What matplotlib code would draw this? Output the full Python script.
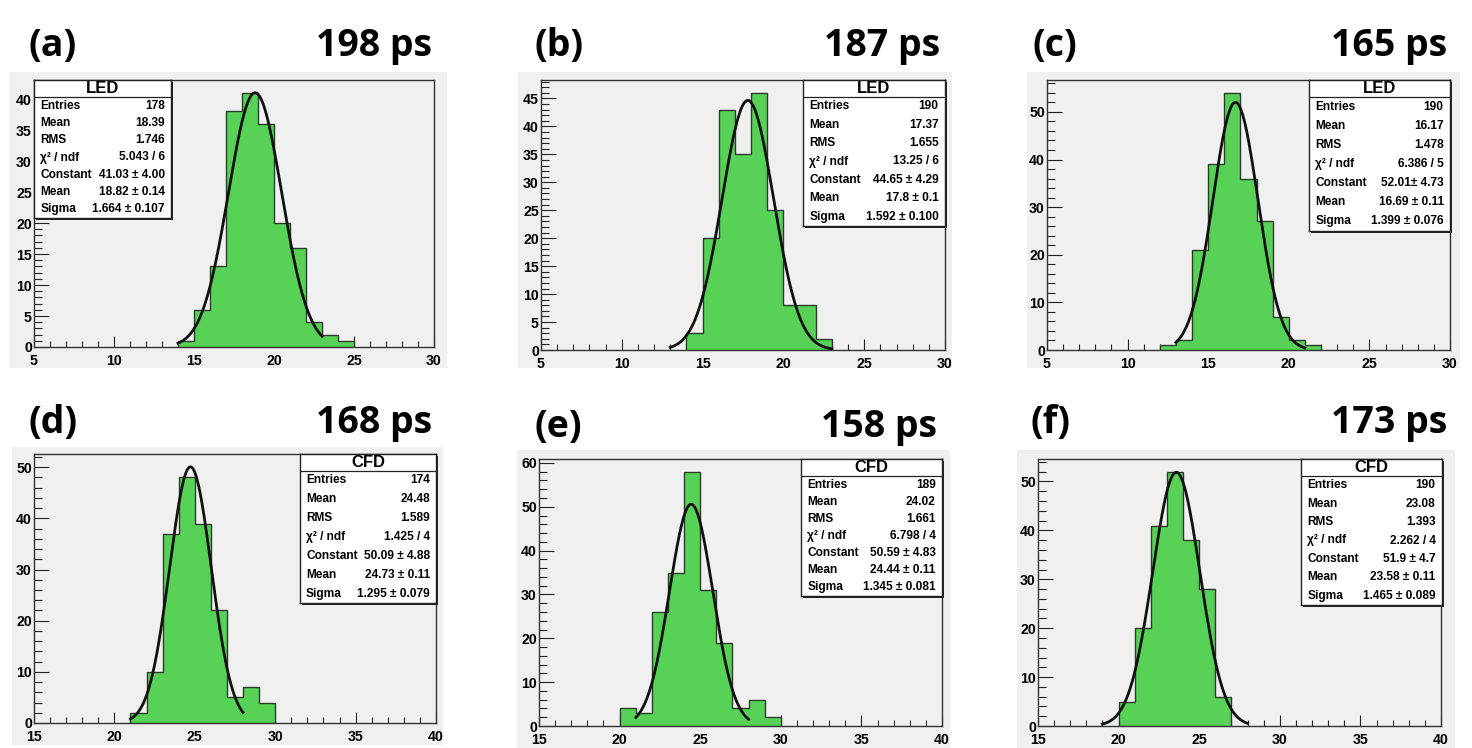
import numpy as np
import matplotlib
matplotlib.use("Agg")
import matplotlib.pyplot as plt
from matplotlib.patches import Rectangle
from matplotlib.ticker import MultipleLocator

plt.rcParams["font.family"] = ["Liberation Sans", "DejaVu Sans"]
plt.rcParams["font.weight"] = "bold"

# ---------------- data ----------------
panel_labels = ["(a)", "(b)", "(c)", "(d)", "(e)", "(f)"]
resolutions = ["198 ps", "187 ps", "165 ps", "168 ps", "158 ps", "173 ps"]
methods = ["LED", "LED", "LED", "CFD", "CFD", "CFD"]

bin_start = [14, 14, 12, 21, 20, 20]
counts_a = [1, 6, 13, 38, 41, 36, 20, 16, 4, 2, 1]
counts_b = [3, 20, 43, 35, 46, 25, 8, 8, 2]
counts_c = [1, 2, 21, 39, 54, 36, 27, 7, 2, 1]
counts_d = [2, 10, 37, 48, 39, 22, 5, 7, 4]
counts_e = [4, 3, 26, 35, 58, 31, 19, 4, 6, 2]
counts_f = [5, 20, 41, 52, 38, 28, 6]
all_counts = [counts_a, counts_b, counts_c, counts_d, counts_e, counts_f]

x_ranges = [(5, 30), (5, 30), (5, 30), (15, 40), (15, 40), (15, 40)]
y_major = [5, 5, 10, 10, 10, 10]
y_minor = [1, 1, 2, 2, 2, 2]

fit_constant = [41.03, 44.65, 52.01, 50.09, 50.59, 51.9]
fit_mean = [18.82, 17.8, 16.69, 24.73, 24.44, 23.58]
fit_sigma = [1.664, 1.592, 1.399, 1.295, 1.345, 1.465]
fit_range = [(14, 23), (13, 23), (13, 21), (21, 28), (21, 28), (19, 28)]

entries_txt = ["178", "190", "190", "174", "189", "190"]
mean_txt = ["18.39", "17.37", "16.17", "24.48", "24.02", "23.08"]
rms_txt = ["1.746", "1.655", "1.478", "1.589", "1.661", "1.393"]
chi2_txt = ["5.043 / 6", "13.25 / 6", "6.386 / 5", "1.425 / 4", "6.798 / 4", "2.262 / 4"]
const_txt = ["41.03 \u00b1 4.00", "44.65 \u00b1 4.29", "52.01\u00b1 4.73",
             "50.09 \u00b1 4.88", "50.59 \u00b1 4.83", "51.9 \u00b1 4.7"]
fmean_txt = ["18.82 \u00b1 0.14", "17.8 \u00b1 0.1", "16.69 \u00b1 0.11",
             "24.73 \u00b1 0.11", "24.44 \u00b1 0.11", "23.58 \u00b1 0.11"]
sigma_txt = ["1.664 \u00b1 0.107", "1.592 \u00b1 0.100", "1.399 \u00b1 0.076",
             "1.295 \u00b1 0.079", "1.345 \u00b1 0.081", "1.465 \u00b1 0.089"]

# ---------------- layout (pixels) ----------------
W, H = 1472, 748
pads = [(10, 72, 447, 368), (518, 72, 952, 368), (1027, 72, 1460, 368),
        (12, 447, 443, 745), (517, 450, 950, 748), (1017, 450, 1455, 748)]
axes_px = [(34, 80, 434, 347), (541, 80, 945, 350), (1047, 80, 1450, 350),
           (34, 454, 436, 723), (539, 459, 942, 726), (1038, 459, 1441, 726)]
stat_px = [(34, 80, 171, 218), (803, 80, 945, 226), (1309, 80, 1450, 231),
           (300, 454, 436, 603), (801, 459, 942, 596), (1301, 459, 1442, 605)]
label_pos = [(28, 56), (535, 56), (1032, 56), (28, 433), (535, 437), (1030, 433)]
res_pos = [(432, 56), (940, 56), (1447, 56), (432, 433), (937, 437), (1447, 433)]

GREEN = "#57d257"
PADGRAY = "#f0f0f0"
TITLE_FAMILY = ["Open Sans", "Noto Sans", "DejaVu Sans"]


def frect(x0, y0, x1, y1):
    return [x0 / W, 1 - y1 / H, (x1 - x0) / W, (y1 - y0) / H]


fig = plt.figure(figsize=(W / 100, H / 100), dpi=100)
fig.patch.set_facecolor("white")

for i in range(6):
    # gray pad
    px0, py0, px1, py1 = pads[i]
    fig.patches.append(Rectangle((px0 / W, 1 - py1 / H), (px1 - px0) / W, (py1 - py0) / H,
                                 transform=fig.transFigure, facecolor=PADGRAY,
                                 edgecolor="none", zorder=-5))

    ax = fig.add_axes(frect(*axes_px[i]))
    ax.set_facecolor(PADGRAY)
    ax.set_zorder(0)
    counts = np.array(all_counts[i], dtype=float)
    edges = np.arange(bin_start[i], bin_start[i] + len(counts) + 1)
    ax.stairs(counts, edges, fill=True, color=GREEN, zorder=2)
    ax.stairs(counts, edges, fill=False, color="#2b3b2b", linewidth=1.0, zorder=3)

    xf = np.linspace(fit_range[i][0], fit_range[i][1], 300)
    yf = fit_constant[i] * np.exp(-0.5 * ((xf - fit_mean[i]) / fit_sigma[i]) ** 2)
    ax.plot(xf, yf, color="#111111", linewidth=2.0, zorder=4)

    ax.set_xlim(*x_ranges[i])
    ax.set_ylim(0, 1.05 * max(counts.max(), fit_constant[i]))
    ax.xaxis.set_major_locator(MultipleLocator(5))
    ax.xaxis.set_minor_locator(MultipleLocator(1))
    ax.yaxis.set_major_locator(MultipleLocator(y_major[i]))
    ax.yaxis.set_minor_locator(MultipleLocator(y_minor[i]))
    ax.tick_params(axis="both", which="both", direction="in", top=False, right=False,
                   color="#222222", width=0.8, labelsize=10.2)
    ax.tick_params(axis="x", which="major", length=8, pad=5)
    ax.tick_params(axis="x", which="minor", length=4)
    ax.tick_params(axis="y", which="major", length=11, pad=1.5)
    ax.tick_params(axis="y", which="minor", length=5.5)
    for sp in ax.spines.values():
        sp.set_color("#333333")
        sp.set_linewidth(1.0)

    # stat box shadow + box
    sx0, sy0, sx1, sy1 = stat_px[i]
    fig.patches.append(Rectangle(((sx0 + 2) / W, 1 - (sy1 + 2) / H), (sx1 - sx0) / W,
                                 (sy1 - sy0) / H, transform=fig.transFigure,
                                 facecolor="#222222", edgecolor="none", zorder=1.5))
    sax = fig.add_axes(frect(*stat_px[i]))
    sax.set_zorder(2)
    sax.set_xlim(0, 1)
    sax.set_ylim(0, 1)
    sax.set_xticks([])
    sax.set_yticks([])
    sax.set_facecolor("white")
    for sp in sax.spines.values():
        sp.set_color("#222222")
        sp.set_linewidth(1.0)
    hpx = sy1 - sy0
    head = 17.0 / hpx
    sax.axhline(1 - head, color="#222222", linewidth=0.9)
    sax.text(0.5, 1 - head / 2, methods[i], ha="center", va="center",
             weight="bold", fontsize=12)
    rows = [("Entries", entries_txt[i]), ("Mean", mean_txt[i]), ("RMS", rms_txt[i]),
            ("\u03c7\u00b2 / ndf", chi2_txt[i]), ("Constant", const_txt[i]),
            ("Mean", fmean_txt[i]), ("Sigma", sigma_txt[i])]
    rh = (1 - head) / 7
    for k, (lab, val) in enumerate(rows):
        yc = 1 - head - rh * (k + 0.5)
        sax.text(0.045, yc, lab, ha="left", va="center", weight="bold", fontsize=8.6)
        sax.text(0.955, yc, val, ha="right", va="center", weight="bold", fontsize=8.6)

    # titles
    lx, ly = label_pos[i]
    fig.text(lx / W, 1 - ly / H, panel_labels[i], ha="left", va="baseline",
             family=TITLE_FAMILY, weight="bold", fontsize=27)
    rx, ry = res_pos[i]
    fig.text(rx / W, 1 - ry / H, resolutions[i], ha="right", va="baseline",
             family=TITLE_FAMILY, weight="bold", fontsize=27)

fig.savefig("out.png", dpi=100, facecolor="white")
